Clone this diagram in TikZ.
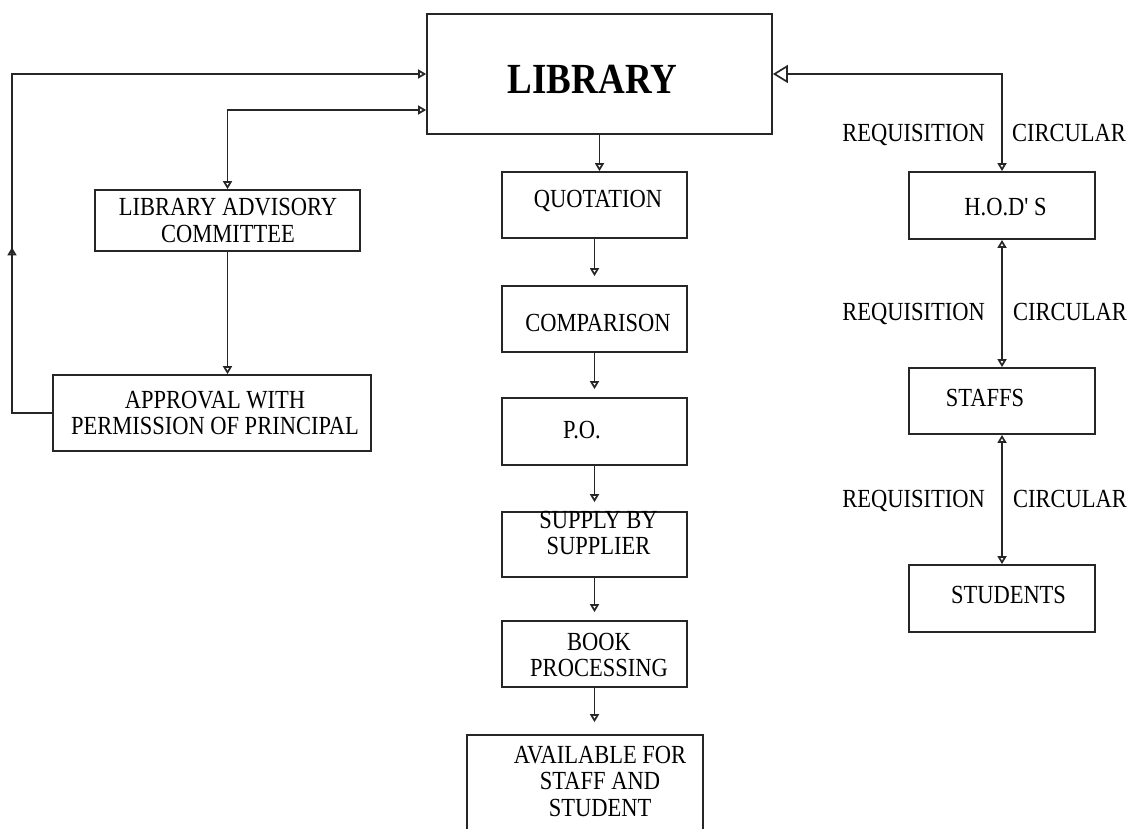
\documentclass[tikz,border=0pt]{standalone}
\usepackage{fontspec}
\setmainfont{Liberation Serif}
\usepackage{graphicx}
\usetikzlibrary{arrows.meta,decorations.markings}
% #1 = horizontal shift, #2 = first baseline above centre, #3 = lines
\newcommand\tx[3]{\raisebox{#2}[0pt][0pt]{\makebox[0pt]{\hspace*{#1}\hspace*{#1}\scalebox{1}[1.16]{\begin{tabular}[t]{@{}c@{}}#3\end{tabular}}}}}
\begin{document}
\begin{tikzpicture}[x=1pt,y=-1pt,
  box/.style={draw=black!85, line width=1.8pt, inner sep=0pt, rectangle,
    font=\fontsize{22.5}{23}\selectfont},
  conn/.style={draw=black!85, line width=1.7pt},
  >={Triangle[open,length=8pt,width=9pt]},
  lbl/.style={inner sep=0pt, font=\fontsize{22.5}{23}\selectfont}]
\useasboundingbox (0,0) rectangle (1135,829);

% boxes
\node[box, minimum width=345pt, minimum height=120pt, font=\fontsize{37}{40}\selectfont\bfseries]
  (lib) at (599.5,74) {\tx{-7pt}{-20pt}{LIBRARY}};
\node[box, minimum width=265pt, minimum height=61pt] (lac) at (227.5,220.5)
  {\tx{0.5pt}{4.5pt}{LIBRARY ADVISORY\\COMMITTEE}};
\node[box, minimum width=318pt, minimum height=76pt] (appr) at (212,413)
  {\tx{3pt}{5pt}{APPROVAL WITH\\PERMISSION OF PRINCIPAL}};

\node[box, minimum width=185pt, minimum height=66pt] (quot) at (594.5,205) {\tx{3.5pt}{-2pt}{QUOTATION}};
\node[box, minimum width=185pt, minimum height=66pt] (comp) at (594.5,319) {\tx{3.5pt}{-12pt}{COMPARISON}};
\node[box, minimum width=185pt, minimum height=67pt] (po) at (594.5,431.5) {\tx{-12.5pt}{-6.5pt}{P.O.}};
\node[box, minimum width=185pt, minimum height=65pt] (supp) at (594.5,544.5) {\tx{4pt}{16.5pt}{SUPPLY BY\\SUPPLIER}};
\node[box, minimum width=185pt, minimum height=66pt] (book) at (594.5,654) {\tx{4.5pt}{4pt}{BOOK\\PROCESSING}};
\node[box, minimum width=236pt, minimum height=110pt] (avail) at (585,790) {\tx{15pt}{27pt}{AVAILABLE FOR\\STAFF AND\\STUDENT}};

\node[box, minimum width=186pt, minimum height=67pt] (hod) at (1002,205.5) {\tx{3.5pt}{-10.5pt}{H.O.D\textquotesingle\ S}};
\node[box, minimum width=186pt, minimum height=66pt] (staffs) at (1002,401) {\tx{-17pt}{-5pt}{STAFFS}};
\node[box, minimum width=186pt, minimum height=67pt] (stud) at (1002,598.5) {\tx{6.5pt}{-4.5pt}{STUDENTS}};

% labels
\node[lbl, anchor=base east] (rq1) at (985,142) {\scalebox{1}[1.16]{REQUISITION}};
\node[lbl, anchor=base west] (cr1) at (1012,142) {\scalebox{1}[1.16]{CIRCULAR}};
\node[lbl, anchor=base east] (rq2) at (985,320) {\scalebox{1}[1.16]{REQUISITION}};
\node[lbl, anchor=base west] (cr2) at (1013,320) {\scalebox{1}[1.16]{CIRCULAR}};
\node[lbl, anchor=base east] (rq3) at (985,507) {\scalebox{1}[1.16]{REQUISITION}};
\node[lbl, anchor=base west] (cr3) at (1013,507) {\scalebox{1}[1.16]{CIRCULAR}};

% corner coordinates
\coordinate (c1) at (12,413);
\coordinate (c2) at (12,74);
\coordinate (c3) at (227.5,110);
\coordinate (c4) at (1002,74);

% left loop
\draw[conn, ->, decoration={markings, mark=at position 0.2594 with {\arrow{>}}}, postaction={decorate}]
  (appr.west |- c1) -- (c1) -- (c2) -- (lib.west);
\draw[conn, <->] (lac.north) -- (c3) -- (c3 -| lib.west);
\draw[conn, ->] (lac.south) -- (lac.south |- appr.north);

% middle column
\draw[conn, ->] (lib.south) -- (lib.south |- quot.north);
\draw[conn, ->, shorten >=9pt] (quot.south) -- (comp.north);
\draw[conn, ->, shorten >=8pt] (comp.south) -- (po.north);
\draw[conn, ->, shorten >=9pt] (po.south) -- (supp.north);
\draw[conn, ->, shorten >=8pt] (supp.south) -- (book.north);
\draw[conn, ->, shorten >=12pt] (book.south) -- (book.south |- avail.north);

% right column
\draw[conn, arrows={Triangle[open,length=15pt,width=18pt]-Triangle[open,length=8pt,width=9pt]}]
  (lib.east) -- (c4) -- (hod.north);
\draw[conn, <->] (hod.south) -- (staffs.north);
\draw[conn, <->] (staffs.south) -- (stud.north);
\end{tikzpicture}
\end{document}
